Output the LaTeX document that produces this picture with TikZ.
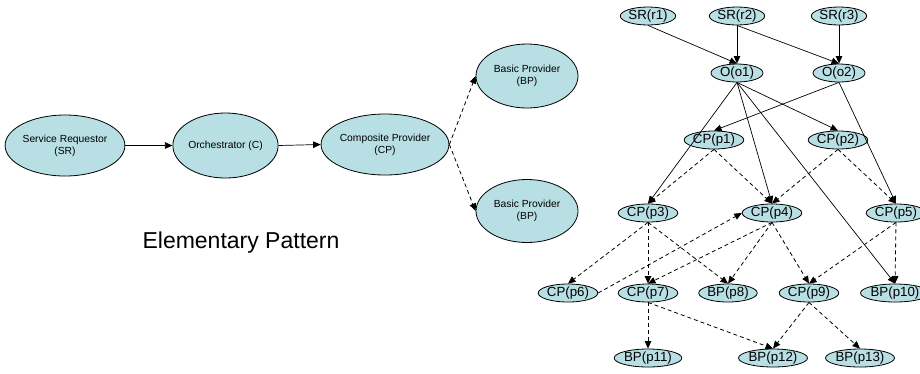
\documentclass[tikz,border=0pt]{standalone}
\usepackage{fontspec}
\setmainfont{Liberation Sans}
\usetikzlibrary{arrows.meta,shapes.geometric}
\definecolor{nodefill}{RGB}{184,223,227}
\tikzset{
  bignode/.style={ellipse,draw=black,fill=nodefill,line width=0.8pt,inner sep=0pt,
    font=\fontsize{10.3}{12}\selectfont,align=center},
  smallnode/.style={ellipse,draw=black,fill=nodefill,line width=0.8pt,inner sep=0pt,
    minimum width=52pt,minimum height=18pt,font=\fontsize{13.3}{14}\selectfont},
  solidarr/.style={line width=0.7pt,-{Triangle[length=7.5pt,width=6.5pt]}},
  dasharr/.style={line width=0.8pt,dash pattern=on 4pt off 3pt,-{Triangle[length=7.5pt,width=6.5pt]}},
}
\begin{document}
\begin{tikzpicture}[x=1pt,y=-1pt]
\useasboundingbox (0,0) rectangle (920,373);
% Elementary pattern
\node[bignode,minimum width=114pt,minimum height=61pt] (sr) at (65,145.5) {Service Requestor\\(SR)};
\node[bignode,minimum width=103pt,minimum height=65pt] (orc) at (225.5,145.5) {Orchestrator (C)};
\node[bignode,minimum width=112pt,minimum height=61pt] (cp) at (385,144.5) {Composite Provider\\(CP)};
\node[bignode,minimum width=102pt,minimum height=64pt] (bp1) at (527,76) {Basic Provider\\(BP)};
\node[bignode,minimum width=102pt,minimum height=63pt] (bp2) at (527,211) {Basic Provider\\(BP)};
\node[font=\fontsize{23}{27}\selectfont] (ep) at (241,243) {Elementary Pattern};
\draw[solidarr] (sr.east) -- (orc.west);
\draw[solidarr] (orc.east) -- (cp.west);
\draw[dasharr] (cp.east) -- (bp1.west);
\draw[dasharr] (cp.east) -- (bp2.west);
% Graph
\node[smallnode] (r1) at (648,16) {SR(r1)};
\node[smallnode] (r2) at (737,16) {SR(r2)};
\node[smallnode] (r3) at (839,16) {SR(r3)};
\node[smallnode] (o1) at (737,73) {O(o1)};
\node[smallnode] (o2) at (839,73) {O(o2)};
\node[smallnode] (p1) at (714,140) {CP(p1)};
\node[smallnode] (p2) at (838,140) {CP(p2)};
\node[smallnode] (p3) at (648,213) {CP(p3)};
\node[smallnode] (p4) at (772,213) {CP(p4)};
\node[smallnode,minimum width=48pt] (p5) at (896,213) {CP(p5)};
\node[smallnode] (p6) at (568,293) {CP(p6)};
\node[smallnode] (p7) at (648,293) {CP(p7)};
\node[smallnode] (p8) at (728,293) {BP(p8)};
\node[smallnode] (p9) at (809,293) {CP(p9)};
\node[smallnode,minimum width=46pt] (p10) at (895,293) {BP(p10)};
\node[smallnode] (p11) at (648,358) {BP(p11)};
\node[smallnode] (p12) at (773,358) {BP(p12)};
\node[smallnode] (p13) at (860,358) {BP(p13)};
% solid edges
\draw[solidarr] (r1.south) -- (o1.north);
\draw[solidarr] (r2.south) -- (o1.north);
\draw[solidarr] (r2.south) -- (o2.north);
\draw[solidarr] (r3.south) -- (o2.north);
\draw[solidarr] (o1.south) -- (p3.north);
\draw[solidarr] (o1.south) -- (p4.north);
\draw[solidarr] (o1.south) -- (p2.north);
\draw[solidarr] (o1.south) -- (p10.north);
\draw[solidarr] (o2.south) -- (p1.north);
\draw[solidarr] (o2.south) -- (p5.north);
% dashed edges
\draw[dasharr] (p1.south) -- (p3.north);
\draw[dasharr] (p1.south) -- (p4.north);
\draw[dasharr] (p2.south) -- (p4.north);
\draw[dasharr] (p2.south) -- (p5.north);
\draw[dasharr] (p3.south) -- (p6.north);
\draw[dasharr] (p3.south) -- (p7.north);
\draw[dasharr] (p3.south) -- (p8.north);
\draw[dasharr] (p6.east) -- (p4.west);
\draw[dasharr] (p4.south) -- (p7.north);
\draw[dasharr] (p4.south) -- (p8.north);
\draw[dasharr] (p4.south) -- (p9.north);
\draw[dasharr] (p5.south) -- (p9.north);
\draw[dasharr] (p5.south) -- (p10.north);
\draw[dasharr] (p7.south) -- (p11.north);
\draw[dasharr] (p7.south) -- (p12.north);
\draw[dasharr] (p9.south) -- (p12.north);
\draw[dasharr] (p9.south) -- (p13.north);
\end{tikzpicture}
\end{document}
